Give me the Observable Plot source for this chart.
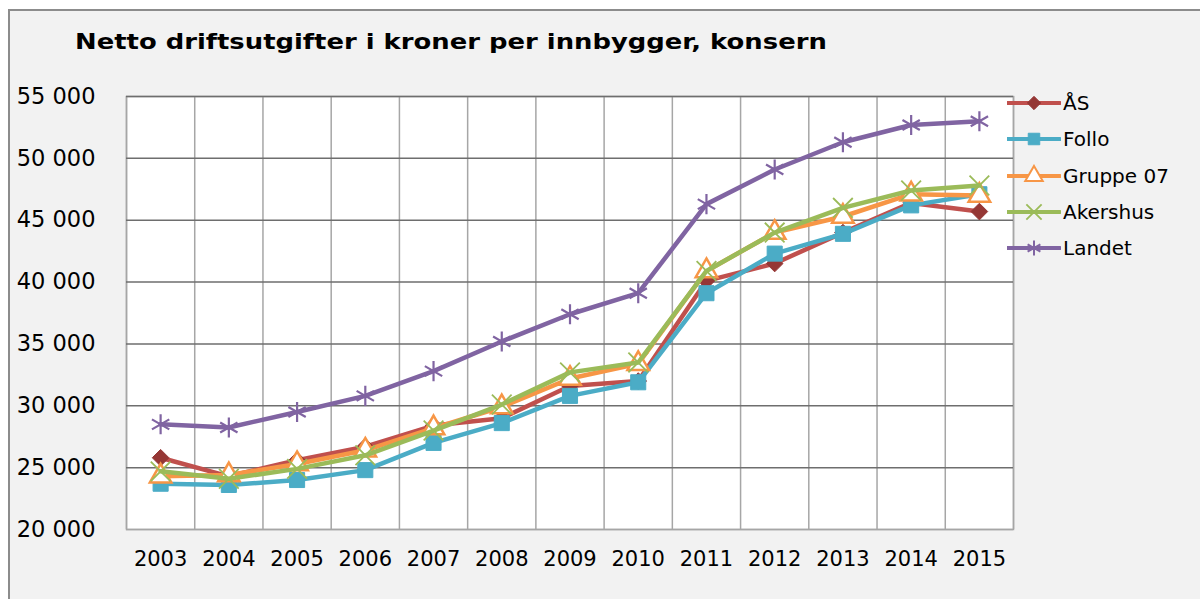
<!DOCTYPE html>
<html><head><meta charset="utf-8">
<script src="https://cdn.jsdelivr.net/npm/d3@7"></script>
<script src="https://cdn.jsdelivr.net/npm/@observablehq/plot@0.6"></script>
<style>
body{margin:0;background:#fff;}
#wrap{position:relative;width:1200px;height:599px;overflow:hidden;background:#fff;}
#panel{position:absolute;left:8px;top:9px;width:1250px;height:650px;background:#f2f2f2;border-left:2px solid #8c8c8c;border-top:2px solid #8c8c8c;}
#title{position:absolute;left:75px;top:29px;font-family:"DejaVu Sans";font-weight:bold;font-size:22px;color:#000;white-space:nowrap;transform:scaleX(1.175);transform-origin:0 0;}
#chart{position:absolute;left:0;top:0;}
#legend{position:absolute;left:1007px;top:0;}
.row{position:absolute;left:0;height:24px;display:flex;align-items:center;white-space:nowrap;}
.row span{font-family:"DejaVu Sans";font-size:20px;color:#000;margin-left:2px;}
</style>
</head><body>
<div id="wrap">
  <div id="panel"></div>
  <div id="title">Netto driftsutgifter i kroner per innbygger, konsern</div>
  <div id="chart"></div>
  <div id="legend"></div>
</div>
<script>
const years = [2003,2004,2005,2006,2007,2008,2009,2010,2011,2012,2013,2014,2015];
const seriesNames = ["ÅS","Follo","Gruppe 07","Akershus","Landet"];
const aas      = [25800,24300,25600,26700,28400,29000,31600,32000,40100,41500,44000,46400,45700];
const follo    = [23700,23600,24000,24800,27000,28600,30800,31900,39100,42300,43900,46200,47100];
const gruppe07 = [24300,24400,25300,26400,28200,29900,32200,33400,40900,44000,45300,47100,47000];
const akershus = [24700,24100,24900,26000,28000,30100,32700,33500,40900,44000,46000,47400,47800];
const landet   = [28500,28250,29500,30800,32800,35200,37400,39100,46300,49100,51300,52700,53000];
const yTicks = [20000,25000,30000,35000,40000,45000,50000,55000];

const values = [aas, follo, gruppe07, akershus, landet];
const styles = [
  {color:"#c0504d", symbol:"diamond2", fill:"#953735", stroke:"#953735", sw:1, r:7.5, lr:6},
  {color:"#4bacc6", symbol:"square", fill:"#4bacc6", stroke:"#4bacc6", sw:1, r:8.5, lr:6.5},
  {color:"#f79646", symbol:"triangle", fill:"#ffffff", stroke:"#f79646", sw:2.5, r:8, lr:6.5},
  {color:"#9bbb59", symbol:"times", fill:"none", stroke:"#9bbb59", sw:1.8, r:9, lr:7},
  {color:"#8064a2", symbol:"asterisk", fill:"none", stroke:"#8064a2", sw:2.2, r:9.5, lr:7}
];
const data = seriesNames.flatMap((s,k)=>years.map((yr,i)=>({series:s, year:yr, value:values[k][i]})));
const gridX = years.concat([years[years.length-1]+1]).map(y=>y-0.5);
const fmt = d3.formatLocale({thousands:" ", grouping:[3], decimal:",", currency:["",""]}).format(",");

const marks = [
  Plot.frame({fill:"white", stroke:"#a6a6a6", strokeWidth:1.5}),
  Plot.ruleX(gridX, {stroke:"#a6a6a6", strokeWidth:1.5}),
  Plot.ruleY(yTicks.slice(1), {stroke:"#6e6e6e", strokeWidth:1.5}),
  Plot.ruleY(yTicks.slice(0,1), {stroke:"#a6a6a6", strokeWidth:1.5}),
  Plot.axisX({ticks: years, tickFormat: d=>String(d), tickSize:0, tickPadding:22, label:null, fontSize:21}),
  Plot.axisY({ticks: yTicks, tickFormat: fmt, tickSize:0, tickPadding:31, label:null, fontSize:22.5})
];
seriesNames.forEach((s,k)=>{
  const d = data.filter(r=>r.series===s);
  const st = styles[k];
  marks.push(Plot.line(d,{x:"year", y:"value", stroke:st.color, strokeWidth:4.5}));
  marks.push(Plot.dot(d,{x:"year", y:"value", symbol:()=>st.symbol, r:st.r, fill:st.fill, stroke:st.stroke, strokeWidth:st.sw}));
});

const chart = Plot.plot({
  width:1200, height:599,
  marginTop:96, marginRight:187, marginBottom:70, marginLeft:126,
  x:{type:"linear", domain:[2002.5,2015.5]},
  y:{domain:[20000,55000]},
  symbol:{type:"identity"},
  style:{fontFamily:"DejaVu Sans", fontSize:"21px", color:"#000", background:"transparent", overflow:"visible"},
  marks
});
document.getElementById("chart").appendChild(chart);

const symMap = {diamond2:d3.symbolDiamond2, square:d3.symbolSquare, triangle:d3.symbolTriangle, times:d3.symbolTimes, asterisk:d3.symbolAsterisk};
const leg = d3.select("#legend");
seriesNames.forEach((s,i)=>{
  const st = styles[i];
  const row = leg.append("div").attr("class","row").style("top",(91 + i*36.3)+"px");
  const svg = row.append("svg").attr("width",54).attr("height",24);
  svg.append("line").attr("x1",0).attr("x2",53).attr("y1",12).attr("y2",12).attr("stroke",st.color).attr("stroke-width",4).attr("stroke-linecap","round");
  svg.append("path").attr("transform","translate(27,12)")
    .attr("d", d3.symbol(symMap[st.symbol], Math.PI*st.lr*st.lr)())
    .attr("fill", st.fill).attr("stroke", st.stroke).attr("stroke-width", Math.min(st.sw,2));
  row.append("span").text(s);
});
</script>
</body></html>
